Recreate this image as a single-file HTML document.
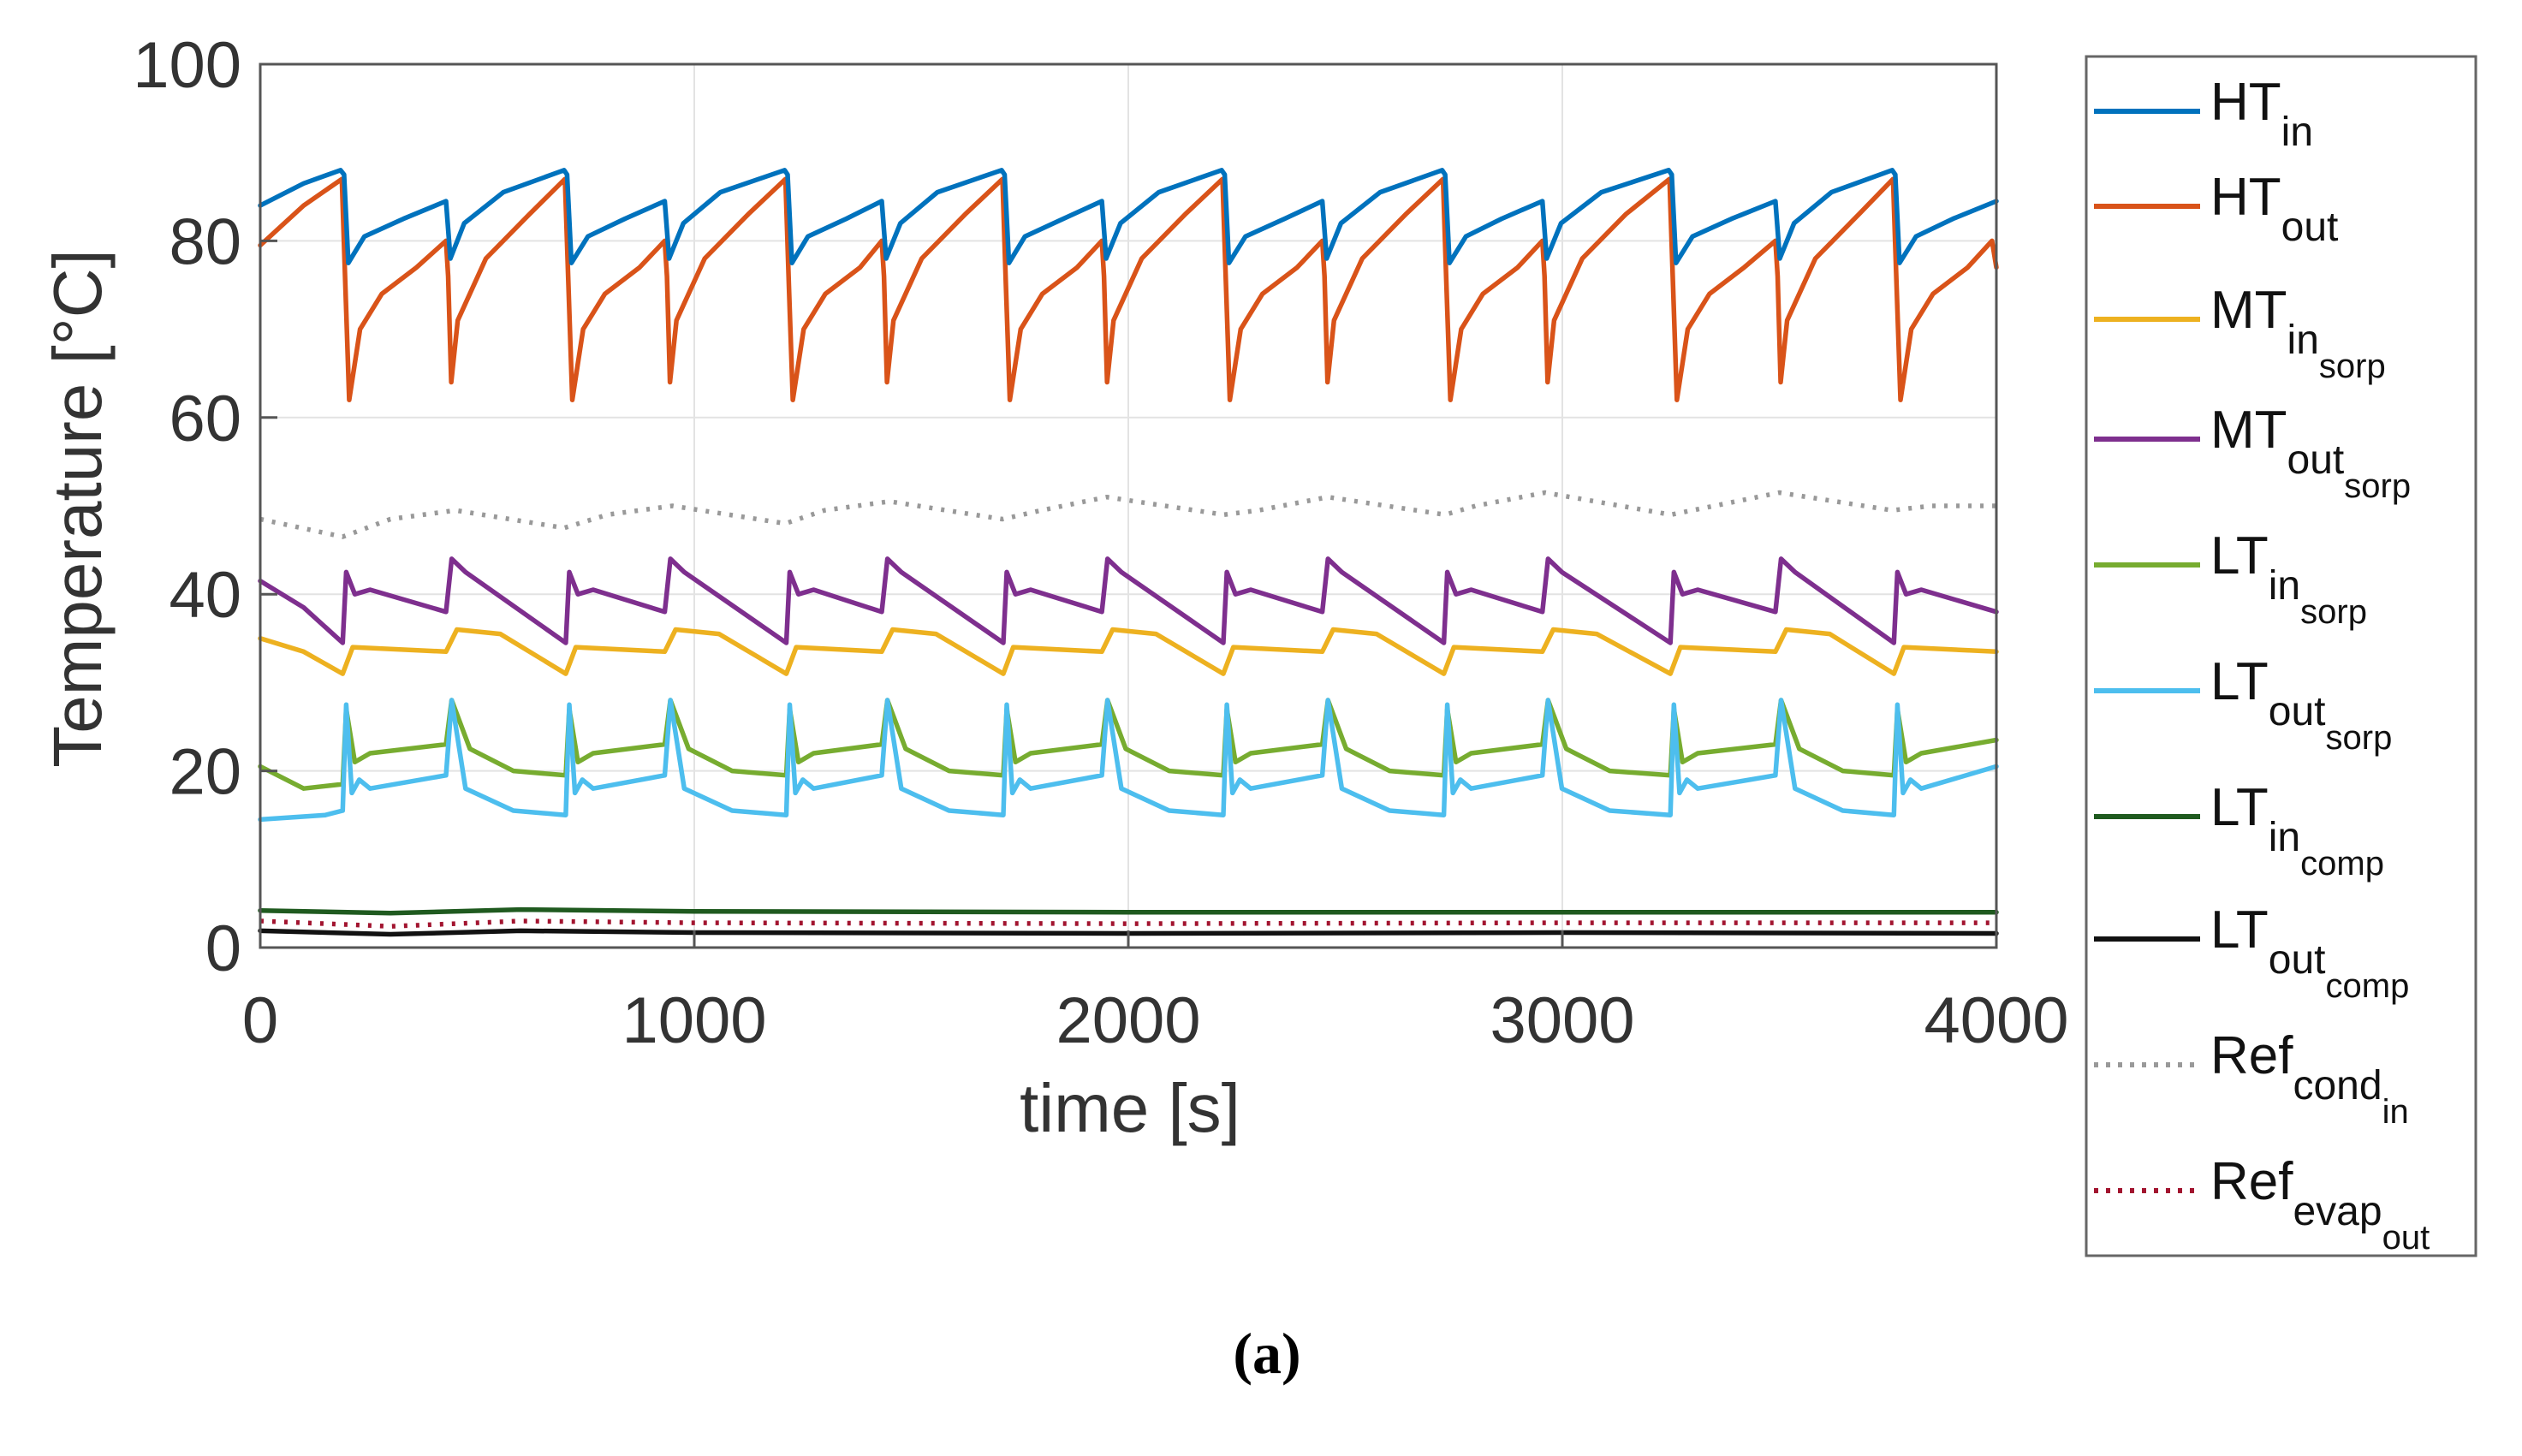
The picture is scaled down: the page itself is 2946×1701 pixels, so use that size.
<!DOCTYPE html>
<html><head><meta charset="utf-8"><style>
html,body{margin:0;padding:0;background:#fff;}
svg{display:block;font-family:"Liberation Sans",sans-serif;}
</style></head><body>
<svg id="chart" width="2946" height="1701" viewBox="0 0 2946 1701" xmlns="http://www.w3.org/2000/svg">
<rect width="2946" height="1701" fill="#fff"/>
<g id="grid"></g>
<g id="series"></g>
<rect x="304" y="75" width="2028" height="1032" fill="none" stroke="#555" stroke-width="3"/>
<g id="ticks" font-size="76" fill="#333"></g>
<text x="1320" y="1322" font-size="80" text-anchor="middle" fill="#333">time [s]</text>
<text transform="translate(118,594) rotate(-90)" font-size="80" text-anchor="middle" fill="#333">Temperature [°C]</text>
<text x="1480" y="1604" font-size="68" font-weight="bold" text-anchor="middle" font-family="Liberation Serif, serif">(a)</text>
<g id="legend">
<rect x="2437" y="66" width="455" height="1401" fill="#fff" stroke="#666" stroke-width="3"/>
</g>
</svg>
<script>
const xTicks=[0,1000,2000,3000,4000];
const yTicks=[0,20,40,60,80,100];
const htIn=[[0,84],[100,86.5],[185,88],[193,87.5],[203,77.5],[240,80.5],[330,82.5],[428,84.5],[438,78],[470,82],[560,85.5],[700,88],[707,87.5],[717,77.5],[755,80.5],[840,82.5],[932,84.5],[942,78],[975,82],[1060,85.5],[1208,88],[1215,87.5],[1225,77.5],[1262,80.5],[1350,82.5],[1432,84.5],[1442,78],[1475,82],[1560,85.5],[1708,88],[1715,87.5],[1725,77.5],[1762,80.5],[1850,82.5],[1939,84.5],[1949,78],[1982,82],[2070,85.5],[2215,88],[2222,87.5],[2232,77.5],[2270,80.5],[2360,82.5],[2447,84.5],[2457,78],[2490,82],[2580,85.5],[2723,88],[2730,87.5],[2740,77.5],[2778,80.5],[2860,82.5],[2954,84.5],[2964,78],[2997,82],[3090,85.5],[3245,88],[3252,87.5],[3262,77.5],[3300,80.5],[3390,82.5],[3491,84.5],[3501,78],[3534,82],[3620,85.5],[3760,88],[3767,87.5],[3777,77.5],[3815,80.5],[3900,82.5],[4000,84.5]];
const htOut=[[0,79.5],[100,84],[188,87],[196,75],[205,62],[230,70],[280,74],[360,77],[428,80],[433,76],[440,64],[455,71],[520,78],[620,83],[702,87],[710,75],[719,62],[744,70],[794,74],[874,77],[932,80],[937,76],[944,64],[959,71],[1024,78],[1124,83],[1210,87],[1218,75],[1227,62],[1252,70],[1302,74],[1382,77],[1432,80],[1437,76],[1444,64],[1459,71],[1524,78],[1624,83],[1710,87],[1718,75],[1727,62],[1752,70],[1802,74],[1882,77],[1939,80],[1944,76],[1951,64],[1966,71],[2031,78],[2131,83],[2217,87],[2225,75],[2234,62],[2259,70],[2309,74],[2389,77],[2447,80],[2452,76],[2459,64],[2474,71],[2539,78],[2639,83],[2725,87],[2733,75],[2742,62],[2767,70],[2817,74],[2897,77],[2954,80],[2959,76],[2966,64],[2981,71],[3046,78],[3146,83],[3247,87],[3255,75],[3264,62],[3289,70],[3339,74],[3419,77],[3491,80],[3496,76],[3503,64],[3518,71],[3583,78],[3683,83],[3762,87],[3770,75],[3779,62],[3804,70],[3854,74],[3934,77],[3990,80],[4000,77]];
const mtIn=[[0,35],[100,33.5],[190,31],[213,34],[428,33.5],[453,36],[553,35.5],[704,31],[727,34],[932,33.5],[957,36],[1057,35.5],[1212,31],[1235,34],[1432,33.5],[1457,36],[1557,35.5],[1712,31],[1735,34],[1939,33.5],[1964,36],[2064,35.5],[2219,31],[2242,34],[2447,33.5],[2472,36],[2572,35.5],[2727,31],[2750,34],[2954,33.5],[2979,36],[3079,35.5],[3249,31],[3272,34],[3491,33.5],[3516,36],[3616,35.5],[3764,31],[3787,34],[4000,33.5]];
const mtOut=[[0,41.5],[100,38.5],[190,34.5],[198,42.5],[218,40],[253,40.5],[428,38],[441,44],[473,42.5],[704,34.5],[712,42.5],[732,40],[767,40.5],[932,38],[945,44],[977,42.5],[1212,34.5],[1220,42.5],[1240,40],[1275,40.5],[1432,38],[1445,44],[1477,42.5],[1712,34.5],[1720,42.5],[1740,40],[1775,40.5],[1939,38],[1952,44],[1984,42.5],[2219,34.5],[2227,42.5],[2247,40],[2282,40.5],[2447,38],[2460,44],[2492,42.5],[2727,34.5],[2735,42.5],[2755,40],[2790,40.5],[2954,38],[2967,44],[2999,42.5],[3249,34.5],[3257,42.5],[3277,40],[3312,40.5],[3491,38],[3504,44],[3536,42.5],[3764,34.5],[3772,42.5],[3792,40],[3827,40.5],[4000,38]];
const ltInSorp=[[0,20.5],[100,18],[190,18.5],[198,27],[218,21],[253,22],[428,23],[441,28],[483,22.5],[583,20],[704,19.5],[712,27],[732,21],[767,22],[932,23],[945,28],[987,22.5],[1087,20],[1212,19.5],[1220,27],[1240,21],[1275,22],[1432,23],[1445,28],[1487,22.5],[1587,20],[1712,19.5],[1720,27],[1740,21],[1775,22],[1939,23],[1952,28],[1994,22.5],[2094,20],[2219,19.5],[2227,27],[2247,21],[2282,22],[2447,23],[2460,28],[2502,22.5],[2602,20],[2727,19.5],[2735,27],[2755,21],[2790,22],[2954,23],[2967,28],[3009,22.5],[3109,20],[3249,19.5],[3257,27],[3277,21],[3312,22],[3491,23],[3504,28],[3546,22.5],[3646,20],[3764,19.5],[3772,27],[3792,21],[3827,22],[4000,23.5]];
const ltOutSorp=[[0,14.5],[150,15],[190,15.5],[198,27.5],[211,17.5],[228,19],[253,18],[428,19.5],[441,28],[473,18],[583,15.5],[704,15],[712,27.5],[725,17.5],[742,19],[767,18],[932,19.5],[945,28],[977,18],[1087,15.5],[1212,15],[1220,27.5],[1233,17.5],[1250,19],[1275,18],[1432,19.5],[1445,28],[1477,18],[1587,15.5],[1712,15],[1720,27.5],[1733,17.5],[1750,19],[1775,18],[1939,19.5],[1952,28],[1984,18],[2094,15.5],[2219,15],[2227,27.5],[2240,17.5],[2257,19],[2282,18],[2447,19.5],[2460,28],[2492,18],[2602,15.5],[2727,15],[2735,27.5],[2748,17.5],[2765,19],[2790,18],[2954,19.5],[2967,28],[2999,18],[3109,15.5],[3249,15],[3257,27.5],[3270,17.5],[3287,19],[3312,18],[3491,19.5],[3504,28],[3536,18],[3646,15.5],[3764,15],[3772,27.5],[3785,17.5],[3802,19],[3827,18],[4000,20.5]];
const ltInComp=[[0,4.2],[300,3.9],[600,4.3],[1000,4.1],[2000,4],[3000,4],[4000,4]];
const ltOutComp=[[0,1.9],[300,1.5],[600,1.9],[1000,1.7],[2000,1.6],[3000,1.7],[4000,1.6]];
const refCondIn=[[0,48.5],[190,46.5],[300,48.5],[450,49.5],[700,47.5],[800,49],[950,50],[1210,48],[1300,49.5],[1450,50.5],[1710,48.5],[1800,49.5],[1950,51],[2220,49],[2300,49.5],[2460,51],[2730,49],[2800,50],[2960,51.5],[3250,49],[3350,50],[3500,51.5],[3760,49.5],[3850,50],[4000,50]];
const refEvapOut=[[0,3],[300,2.4],[600,3],[1000,2.8],[2000,2.7],[3000,2.8],[4000,2.8]];

const NS="http://www.w3.org/2000/svg";
const X0=304,X1=2332,Y0=1107,Y1=75;
function xs(t){return X0+(t/4000)*(X1-X0);}
function ys(v){return Y0-(v/100)*(Y0-Y1);}
const grid=document.getElementById('grid'),ticks=document.getElementById('ticks'),ser=document.getElementById('series'),leg=document.getElementById('legend');
function mk(tag,attrs,parent){const e=document.createElementNS(NS,tag);for(const k in attrs)e.setAttribute(k,attrs[k]);parent.appendChild(e);return e;}
yTicks.forEach(v=>{
  if(v>0&&v<100){const g=mk('line',{x1:X0,x2:X1,y1:ys(v),y2:ys(v),stroke:'#e3e3e3','stroke-width':2},grid);
  
  }
  const tk=mk('line',{x1:X0,x2:X0+20,y1:ys(v),y2:ys(v),stroke:'#555','stroke-width':3},ticks);
  
  
  const t=mk('text',{x:X0-22,y:ys(v)+27,'text-anchor':'end'},ticks);t.textContent=v;
  
  
});
xTicks.forEach(v=>{
  if(v>0&&v<4000){const g=mk('line',{x1:xs(v),x2:xs(v),y1:Y0,y2:Y1,stroke:'#e3e3e3','stroke-width':2},grid);
  
  }
  const tk=mk('line',{x1:xs(v),x2:xs(v),y1:Y0,y2:Y0-20,stroke:'#555','stroke-width':3},ticks);
  
  
  const t=mk('text',{x:xs(v),y:1218,'text-anchor':'middle'},ticks);t.textContent=v;
  
  
});
const defs=[
 {d:refCondIn,c:'#999999',dash:'4 10',name:'series-ref-cond-in',lab:['Ref','cond','in']},
 {d:mtIn,c:'#EDB120',name:'series-mt-in-sorp',lab:['MT','in','sorp']},
 {d:mtOut,c:'#7E2F8E',name:'series-mt-out-sorp',lab:['MT','out','sorp']},
 {d:ltInSorp,c:'#77AC30',name:'series-lt-in-sorp',lab:['LT','in','sorp']},
 {d:ltOutSorp,c:'#4DBEEE',name:'series-lt-out-sorp',lab:['LT','out','sorp']},
 {d:ltInComp,c:'#1f5a1f',name:'series-lt-in-comp',lab:['LT','in','comp']},
 {d:ltOutComp,c:'#111111',name:'series-lt-out-comp',lab:['LT','out','comp']},
 {d:refEvapOut,c:'#A2142F',dash:'4 10',name:'series-ref-evap-out',lab:['Ref','evap','out']},
 {d:htOut,c:'#D95319',name:'series-ht-out',lab:['HT','out']},
 {d:htIn,c:'#0072BD',name:'series-ht-in',lab:['HT','in']}
];
defs.forEach(s=>{
  const p=mk('path',{d:'M'+s.d.map(q=>xs(q[0]).toFixed(1)+','+ys(q[1]).toFixed(1)).join('L'),fill:'none',stroke:s.c,'stroke-width':5.5,'stroke-linejoin':'round','stroke-linecap':s.dash?'butt':'round'},ser);
  if(s.dash)p.setAttribute('stroke-dasharray',s.dash);
  
  
});
const legOrder=[9,8,1,2,3,4,5,6,0,7];
const legY=[130,241,373,513,660,807,954,1097,1244,1391];
legOrder.forEach((idx,i)=>{
  const s=defs[idx],y=legY[i];
  const g=mk('g',{},leg);
  
  
  const l=mk('line',{x1:2446,x2:2570,y1:y,y2:y,stroke:s.c,'stroke-width':6},g);
  if(s.dash)l.setAttribute('stroke-dasharray','5 9');
  const t=mk('text',{x:2582,y:y+10,'font-size':62,fill:'#111'},g);
  const a=mk('tspan',{},t);a.textContent=s.lab[0];
  const b=mk('tspan',{dy:30,'font-size':48},t);b.textContent=s.lab[1];
  if(s.lab[2]){const c=mk('tspan',{dy:28,'font-size':40},t);c.textContent=s.lab[2];}
});
</script>
</body></html>
